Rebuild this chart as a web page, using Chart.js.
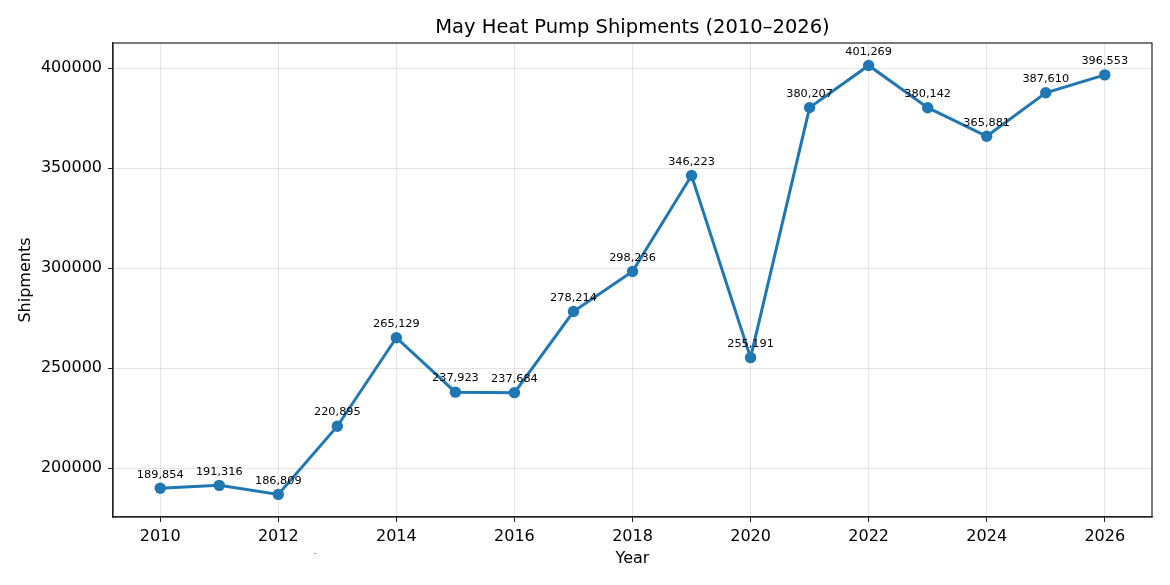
<!DOCTYPE html>
<html>
<head>
<meta charset="utf-8">
<script src="https://cdn.jsdelivr.net/npm/chart.js@4.4.0/dist/chart.umd.min.js"></script>
<style>
html,body{margin:0;padding:0;background:#fff;}
#wrap{width:1170px;height:585px;position:relative;}
</style>
</head>
<body>
<div id="wrap"><canvas id="c" width="1170" height="585"></canvas></div>
<script>
const chartTitle = "May Heat Pump Shipments (2010–2026)";
const xTitle = "Year";
const yTitle = "Shipments";
const years = [2010,2011,2012,2013,2014,2015,2016,2017,2018,2019,2020,2021,2022,2023,2024,2025,2026];
const shipments = [189854,191316,186809,220895,265129,237923,237684,278214,298236,346223,255191,380207,401269,380142,365881,387610,396553];
const xTicks = [2010,2012,2014,2016,2018,2020,2022,2024,2026];
const yTicks = [200000,250000,300000,350000,400000];

const FONT = "'DejaVu Sans', sans-serif";

const extras = {
  id: 'extras',
  afterDraw(chart) {
    const ctx = chart.ctx;
    const a = chart.chartArea;
    ctx.save();
    // frame
    ctx.strokeStyle = '#222';
    ctx.lineWidth = 1.2;
    ctx.strokeRect(a.left, a.top, a.right - a.left, a.bottom - a.top);
    // title
    ctx.fillStyle = '#000';
    ctx.font = "19.5px " + FONT;
    ctx.textAlign = 'center';
    ctx.textBaseline = 'middle';
    ctx.fillText(chartTitle, (a.left + a.right) / 2, 28);
    // stray mark present in the reference below the axis
    ctx.font = "8px " + FONT;
    ctx.fillText(".", 315, 552);
    // data labels
    const meta = chart.getDatasetMeta(0);
    ctx.font = "11.3px " + FONT;
    ctx.textBaseline = 'bottom';
    meta.data.forEach((pt, i) => {
      ctx.fillText(shipments[i].toLocaleString('en-US'), pt.x, pt.y - 8);
    });
    ctx.restore();
  }
};

new Chart(document.getElementById('c'), {
  type: 'line',
  data: {
    datasets: [{
      data: years.map((y, i) => ({x: y, y: shipments[i]})),
      borderColor: '#1f77b4',
      backgroundColor: '#1f77b4',
      borderWidth: 3,
      pointRadius: 5.7,
      pointHoverRadius: 5.7,
      pointBorderWidth: 0,
      tension: 0,
      fill: false
    }]
  },
  options: {
    responsive: false,
    animation: false,
    events: [],
    layout: {padding: {left: 0, right: 18, top: 43, bottom: 0}},
    plugins: {legend: {display: false}, title: {display: false}, tooltip: {enabled: false}},
    scales: {
      x: {
        type: 'linear',
        min: 2009.2,
        max: 2026.8,
        afterBuildTicks(s) { s.ticks = xTicks.map(v => ({value: v})); },
        afterFit(s) { s.height = 68; },
        ticks: {color: '#000', font: {family: FONT, size: 16}, padding: 5, maxRotation: 0, callback: v => String(v)},
        grid: {color: 'rgba(0,0,0,0.1)', tickColor: '#222', tickLength: 5, lineWidth: 1},
        border: {display: true, color: '#222', width: 1.2},
        title: {display: true, text: xTitle, color: '#000', font: {family: FONT, size: 16}, padding: {top: 0, bottom: 17}}
      },
      y: {
        type: 'linear',
        min: 175500,
        max: 412500,
        afterBuildTicks(s) { s.ticks = yTicks.map(v => ({value: v})); },
        afterFit(s) { s.width = 113; },
        ticks: {color: '#000', font: {family: FONT, size: 16}, padding: 6, callback: v => String(v)},
        grid: {color: 'rgba(0,0,0,0.1)', tickColor: '#222', tickLength: 5, lineWidth: 1},
        border: {display: true, color: '#222', width: 1.2},
        title: {display: true, text: yTitle, color: '#000', font: {family: FONT, size: 16}, padding: {top: 16, bottom: 0}}
      }
    }
  },
  plugins: [extras]
});
</script>
</body>
</html>
